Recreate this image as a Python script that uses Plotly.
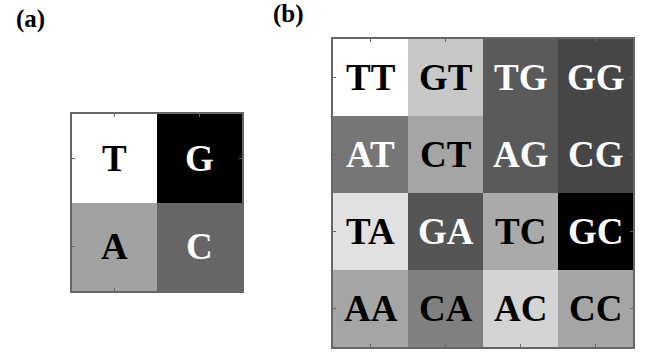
import plotly.graph_objects as go

# Panel (a): 2x2 nucleotide map (rows top->bottom)
labels_a = [["T", "G"], ["A", "C"]]
gray_a = [[255, 0], [162, 102]]

# Panel (b): 4x4 dinucleotide map (rows top->bottom)
labels_b = [["TT", "GT", "TG", "GG"],
            ["AT", "CT", "AG", "CG"],
            ["TA", "GA", "TC", "GC"],
            ["AA", "CA", "AC", "CC"]]
gray_b = [[255, 200, 90, 70],
          [118, 165, 90, 70],
          [225, 85, 170, 0],
          [165, 128, 212, 165]]

FONT = "Liberation Serif, Times New Roman, serif"
scale = [[0, "black"], [1, "white"]]

fig = go.Figure()

def add_panel(labels, gray, xa, ya):
    n = len(gray)
    idx = list(range(n))
    fig.add_trace(go.Heatmap(z=gray, x=idx, y=idx, colorscale=scale, zmin=0, zmax=255,
                             showscale=False, hoverinfo="skip",
                             xaxis=xa, yaxis=ya, xgap=0, ygap=0))
    for r in range(n):
        for c in range(n):
            fig.add_annotation(x=c, y=r, text="<b>%s</b>" % labels[r][c], showarrow=False,
                               xref=xa, yref=ya,
                               font=dict(family=FONT, size=37,
                                         color="white" if gray[r][c] < 124 else "black"))

add_panel(labels_a, gray_a, "x", "y")
add_panel(labels_b, gray_b, "x2", "y2")

ax_common = dict(showticklabels=False, ticks="inside", ticklen=3, tickcolor="#666",
                 showline=True, linecolor="#666", linewidth=2, mirror="ticks",
                 showgrid=False, zeroline=False)

fig.update_layout(
    width=647, height=358, margin=dict(l=0, r=0, t=0, b=0),
    paper_bgcolor="white", plot_bgcolor="white", showlegend=False,
    xaxis=dict(domain=[72/647, 242/647], anchor="y", range=[-0.5, 1.5],
               tickvals=[0, 1], **ax_common),
    yaxis=dict(domain=[1-291/358, 1-114/358], anchor="x", range=[1.5, -0.5],
               tickvals=[0, 1], **ax_common),
    xaxis2=dict(domain=[333/647, 633/647], anchor="y2", range=[-0.5, 3.5],
                tickvals=[0, 1, 2, 3], **ax_common),
    yaxis2=dict(domain=[1-347/358, 1-39/358], anchor="x2", range=[3.5, -0.5],
                tickvals=[0, 1, 2, 3], **ax_common),
)

fig.add_annotation(x=14/647, y=1-19/358, xref="paper", yref="paper", text="<b>(a)</b>",
                   showarrow=False, xanchor="left", yanchor="middle",
                   font=dict(family=FONT, size=25, color="black"))
fig.add_annotation(x=271/647, y=1-14/358, xref="paper", yref="paper", text="<b>(b)</b>",
                   showarrow=False, xanchor="left", yanchor="middle",
                   font=dict(family=FONT, size=25, color="black"))

fig.write_html("out.html", config={"displayModeBar": False},
               post_script="document.body.style.margin='0';")
